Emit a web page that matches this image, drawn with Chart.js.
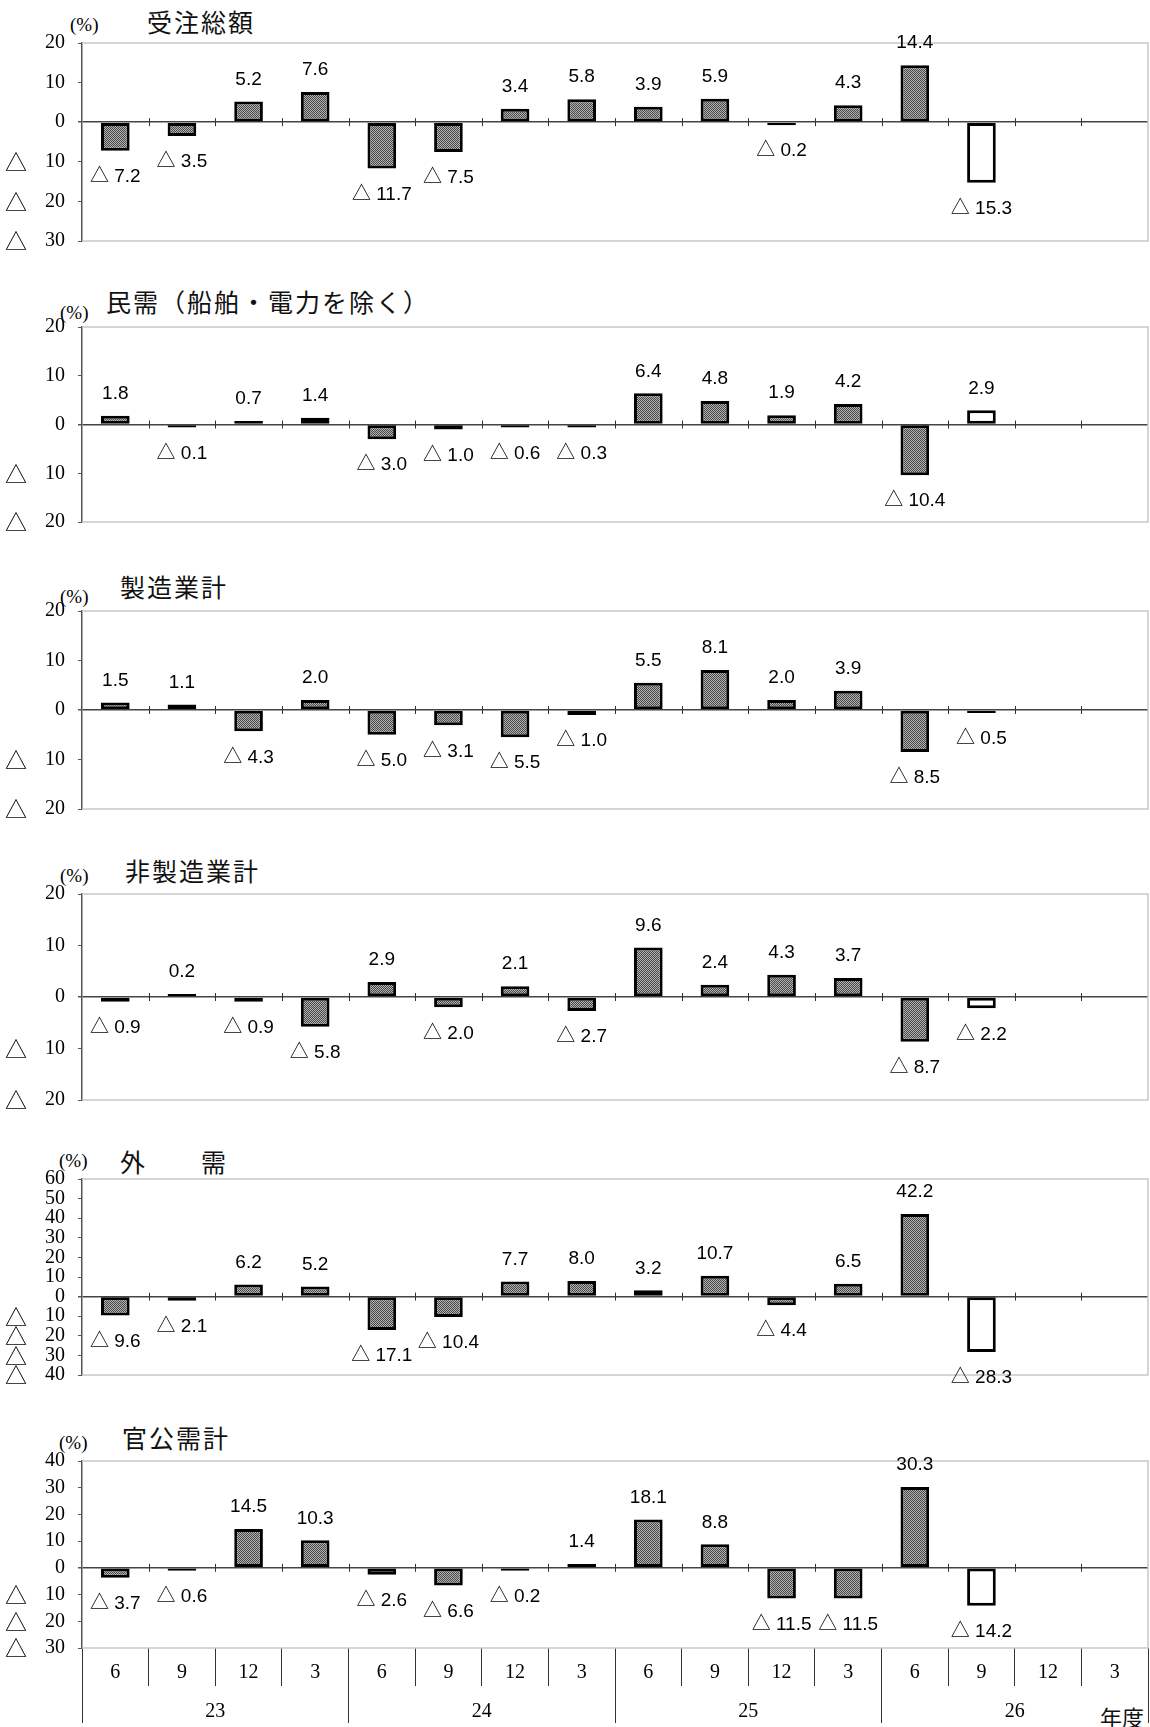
<!DOCTYPE html>
<html>
<head>
<meta charset="utf-8">
<script src="https://cdn.jsdelivr.net/npm/chart.js@4.4.1/dist/chart.umd.min.js"></script>
<title>受注額 前年同期比</title>
<style>
  body { margin: 0; width: 1150px; height: 1727px; background: #fff; position: relative; overflow: hidden; }
  canvas { position: absolute; left: 0; }
  .unit { position: absolute; font-family: 'Liberation Serif', serif; font-size: 19px; line-height: 19px; color: #000; }
  .ttl { position: absolute; font-family: 'Noto Sans CJK JP', sans-serif; font-size: 25px; line-height: 25px; letter-spacing: 2px; color: #111; white-space: nowrap; }
</style>
</head>
<body>

<div class="unit" style="left:70px; top:15px;">(%)</div>
<div class="ttl" style="left:147px; top:9px;">受注総額</div>

<div class="unit" style="left:60px; top:303px;">(%)</div>
<div class="ttl" style="left:106px; top:289px;">民需（船舶・電力を除く）</div>

<div class="unit" style="left:60px; top:587px;">(%)</div>
<div class="ttl" style="left:120px; top:574px;">製造業計</div>

<div class="unit" style="left:60px; top:866px;">(%)</div>
<div class="ttl" style="left:125px; top:858px;">非製造業計</div>

<div class="unit" style="left:59px; top:1151px;">(%)</div>
<div class="ttl" style="left:120px; top:1149px;">外　　需</div>

<div class="unit" style="left:59px; top:1433px;">(%)</div>
<div class="ttl" style="left:122px; top:1425px;">官公需計</div>

<div class="ttl" style="left:1100px; top:1705px; font-size:22px; line-height:22px; letter-spacing:0;">年度</div>

<script>
// quarter-end months and fiscal years (平成)
const quarters = ['6','9','12','3','6','9','12','3','6','9','12','3','6','9','12','3'];
const years = ['23','24','25','26'];

// 前年同期比 (%)
const totalOrders      = [-7.2, -3.5, 5.2, 7.6, -11.7, -7.5, 3.4, 5.8, 3.9, 5.9, -0.2, 4.3, 14.4, -15.3];
const privateDemand    = [1.8, -0.1, 0.7, 1.4, -3.0, -1.0, -0.6, -0.3, 6.4, 4.8, 1.9, 4.2, -10.4, 2.9];
const manufacturing    = [1.5, 1.1, -4.3, 2.0, -5.0, -3.1, -5.5, -1.0, 5.5, 8.1, 2.0, 3.9, -8.5, -0.5];
const nonManufacturing = [-0.9, 0.2, -0.9, -5.8, 2.9, -2.0, 2.1, -2.7, 9.6, 2.4, 4.3, 3.7, -8.7, -2.2];
const foreignDemand    = [-9.6, -2.1, 6.2, 5.2, -17.1, -10.4, 7.7, 8.0, 3.2, 10.7, -4.4, 6.5, 42.2, -28.3];
const publicDemand     = [-3.7, -0.6, 14.5, 10.3, -2.6, -6.6, -0.2, 1.4, 18.1, 8.8, -11.5, -11.5, 30.3, -14.2];

// last value is the outlook (見通し), drawn hollow
const outlookIdx = 13;

// panel layout: plot top/bottom in page pixels, axis range
const panels = [
  { values: totalOrders,      min: -30, max: 20, top: 43,   bottom: 241 },
  { values: privateDemand,    min: -20, max: 20, top: 327,  bottom: 522 },
  { values: manufacturing,    min: -20, max: 20, top: 611,  bottom: 809 },
  { values: nonManufacturing, min: -20, max: 20, top: 894,  bottom: 1100 },
  { values: foreignDemand,    min: -40, max: 60, top: 1179, bottom: 1375 },
  { values: publicDemand,     min: -30, max: 40, top: 1461, bottom: 1648, table: true }
];

const serif = "'Liberation Serif', serif";
const cjk = "'Noto Sans CJK JP', sans-serif";

function dotPattern(ctx) {
  const t = document.createElement('canvas');
  t.width = 2; t.height = 2;
  const c = t.getContext('2d');
  c.fillStyle = '#b0b0b0'; c.fillRect(0, 0, 2, 2);
  c.fillStyle = '#4a4a4a'; c.fillRect(0, 0, 1, 1); c.fillRect(1, 1, 1, 1);
  return ctx.createPattern(t, 'repeat');
}

// light frame on top/right/bottom and small ticks on the zero line
const framePlugin = {
  id: 'frame',
  beforeDatasetsDraw(chart) {
    const { ctx, chartArea: a, scales } = chart;
    const x = scales.x, y = scales.y;
    ctx.save();
    ctx.strokeStyle = '#c8c8c8';
    ctx.lineWidth = 1.5;
    ctx.beginPath();
    ctx.moveTo(a.left, a.top); ctx.lineTo(a.right, a.top);
    ctx.lineTo(a.right, a.bottom); ctx.lineTo(a.left, a.bottom);
    ctx.stroke();
    const y0 = y.getPixelForValue(0);
    const step = x.getPixelForValue(1) - x.getPixelForValue(0);
    ctx.strokeStyle = '#333';
    ctx.lineWidth = 1;
    ctx.beginPath();
    for (let i = 1; i < quarters.length; i++) {
      const px = Math.round(x.getPixelForValue(i) - step / 2) + 0.5;
      ctx.moveTo(px, y0 - 4); ctx.lineTo(px, y0 + 4);
    }
    ctx.stroke();
    ctx.restore();
  }
};

// value labels, negatives written with △
const labelPlugin = {
  id: 'barLabels',
  afterDatasetsDraw(chart) {
    const ctx = chart.ctx;
    const meta = chart.getDatasetMeta(0);
    const vals = chart.data.datasets[0].data;
    ctx.save();
    ctx.font = "19px 'Liberation Sans', 'Noto Sans CJK JP', sans-serif";
    ctx.fillStyle = '#000';
    ctx.textAlign = 'center';
    ctx.textBaseline = 'middle';
    meta.data.forEach((bar, i) => {
      const v = vals[i];
      if (v == null) return;
      if (v < 0) {
        ctx.fillText('△ ' + (-v).toFixed(1), bar.x, Math.max(bar.y, bar.base) + 26);
      } else {
        ctx.fillText(v.toFixed(1), bar.x, Math.min(bar.y, bar.base) - 22);
      }
    });
    ctx.restore();
  }
};

function makeChart(canvas, p, pattern) {
  const scales = {
    x: {
      display: !!p.table,
      offset: true,
      grid: { offset: true, drawOnChartArea: false, drawTicks: true, tickLength: 38, color: '#333', lineWidth: 1 },
      border: { display: false },
      ticks: { font: { family: serif, size: 20 }, color: '#000', padding: -25, maxRotation: 0, autoSkip: false },
      afterFit: s => { if (p.table) s.height = 38; }
    },
    y: {
      position: 'left',
      weight: 0,
      min: p.min,
      max: p.max,
      ticks: {
        stepSize: 10,
        autoSkip: false,
        padding: 13,
        color: '#000',
        font: { family: serif, size: 20 },
        callback: v => String(Math.abs(v))
      },
      grid: {
        drawOnChartArea: true,
        color: c => (c.tick && c.tick.value === 0) ? '#444' : 'rgba(0,0,0,0)',
        lineWidth: c => (c.tick && c.tick.value === 0) ? 1.5 : 1,
        tickColor: '#555',
        tickLength: 4
      },
      border: { color: '#555', width: 1.5 },
      afterFit: s => { s.width = 47; }
    },
    // the △ (minus) marks in front of the negative tick values
    ym: {
      type: 'linear',
      axis: 'y',
      position: 'left',
      weight: 1,
      min: p.min,
      max: p.max,
      ticks: {
        stepSize: 10,
        autoSkip: false,
        padding: 0,
        color: '#000',
        font: { family: cjk, size: 22 },
        callback: v => v < 0 ? '△' : ''
      },
      grid: { display: false },
      border: { display: false },
      afterFit: s => { s.width = 35; }
    }
  };
  if (p.table) {
    scales.yr = {
      type: 'category',
      axis: 'x',
      position: 'bottom',
      weight: 1,
      labels: years,
      offset: true,
      grid: { offset: true, drawOnChartArea: false, drawTicks: true, tickLength: 37, color: '#333', lineWidth: 1 },
      border: { display: false },
      ticks: { font: { family: serif, size: 20 }, color: '#000', padding: -23.5, maxRotation: 0, autoSkip: false },
      afterFit: s => { s.height = 37; }
    };
  }

  return new Chart(canvas.getContext('2d'), {
    type: 'bar',
    data: {
      labels: quarters,
      datasets: [{
        data: p.values,
        backgroundColor: c => c.dataIndex === outlookIdx ? '#ffffff' : pattern,
        borderColor: '#000',
        borderWidth: 3,
        borderSkipped: false,
        minBarLength: 3,
        barPercentage: 0.43,
        categoryPercentage: 1
      }]
    },
    options: {
      responsive: false,
      maintainAspectRatio: false,
      animation: false,
      layout: { padding: { top: 16, right: 2, bottom: p.table ? 4 : 16, left: 0 } },
      plugins: { legend: { display: false }, tooltip: { enabled: false } },
      scales: scales
    },
    plugins: [framePlugin, labelPlugin]
  });
}

panels.forEach(p => {
  const canvas = document.createElement('canvas');
  canvas.width = 1150;
  canvas.height = 300;
  document.body.appendChild(canvas);
  const pattern = dotPattern(canvas.getContext('2d'));

  // first pass measures the space around the plot, second pass sizes it
  let chart = makeChart(canvas, p, pattern);
  const above = chart.chartArea.top;
  const below = canvas.height - chart.chartArea.bottom;
  chart.destroy();
  canvas.width = 1150;
  canvas.height = Math.round((p.bottom - p.top) + above + below);
  chart = makeChart(canvas, p, pattern);
  canvas.style.top = (p.top - chart.chartArea.top) + 'px';
});
</script>
</body>
</html>
